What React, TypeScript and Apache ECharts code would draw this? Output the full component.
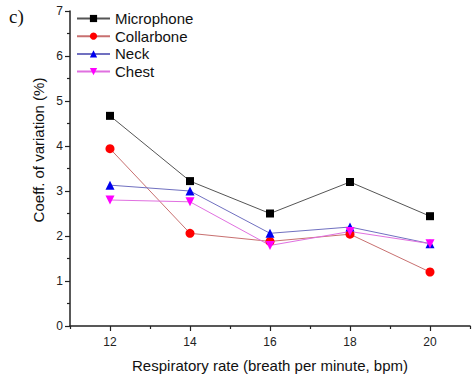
import React, { useEffect, useRef } from "react";
import * as echarts from "echarts";

const rates = [12, 14, 16, 18, 20];
const microphone = [4.67, 3.22, 2.5, 3.2, 2.44];
const collarbone = [3.94, 2.06, 1.88, 2.04, 1.2];
const neck = [3.13, 3.0, 2.06, 2.2, 1.83];
const chest = [2.8, 2.76, 1.79, 2.1, 1.83];
const majorXTicks = [12, 14, 16, 18, 20];
const minorXTicks = [11, 13, 15, 17, 19, 21];

const FONT = "Liberation Sans, Arial, sans-serif";

export default function App() {
  const ref = useRef<HTMLDivElement>(null);
  useEffect(() => {
    if (!ref.current) return;
    const chart = echarts.init(ref.current, null, { renderer: "svg" });
    const pair = (arr: number[]) => rates.map((r, i) => [r, arr[i]]);
    const mk = (name: string, data: number[], lineColor: string, symColor: string, symbol: string, size: number, rotate = 0) => ({
      name,
      type: "line",
      data: pair(data),
      symbol,
      symbolSize: size,
      symbolRotate: rotate,
      lineStyle: { color: lineColor, width: 1 },
      itemStyle: { color: symColor, borderWidth: 0 },
      emphasis: { disabled: true },
    });
    chart.setOption({
      animation: false,
      backgroundColor: "#fff",
      textStyle: { fontFamily: FONT },
      grid: { left: 70, top: 11, right: 6, bottom: 50 },
      legend: {
        orient: "vertical",
        left: 71,
        top: 6,
        itemWidth: 33,
        itemHeight: 9,
        itemGap: 2.7,
        textStyle: { fontSize: 15, color: "#111", fontFamily: FONT },
        data: ["Microphone", "Collarbone", "Neck", "Chest"],
      },
      xAxis: [
        {
          type: "value",
          min: 11,
          max: 21,
          interval: 1,
          name: "Respiratory rate (breath per minute, bpm)",
          nameLocation: "middle",
          nameGap: 32,
          nameTextStyle: { fontSize: 15, color: "#111", fontFamily: FONT },
          axisLine: { show: true, onZero: false, lineStyle: { color: "#222", width: 1.5 } },
          axisTick: { show: true, length: 5, customValues: majorXTicks, lineStyle: { color: "#222", width: 1.2 } },
          axisLabel: { show: true, customValues: majorXTicks, fontSize: 12, color: "#222", margin: 10, fontFamily: FONT },
          splitLine: { show: false },
        },
        {
          type: "value",
          min: 11,
          max: 21,
          position: "bottom",
          interval: 1,
          axisLine: { show: false, onZero: false },
          axisTick: { show: true, length: 3, customValues: minorXTicks, lineStyle: { color: "#222", width: 1.2 } },
          axisLabel: { show: false },
          splitLine: { show: false },
        },
      ],
      yAxis: {
        type: "value",
        min: 0,
        max: 7,
        interval: 1,
        axisLine: { show: true, lineStyle: { color: "#222", width: 1.5 } },
        axisTick: { show: true, length: 5, lineStyle: { color: "#222", width: 1.2 } },
        minorTick: { show: true, splitNumber: 2, length: 3, lineStyle: { color: "#222", width: 1.2 } },
        axisLabel: { fontSize: 12, color: "#222", margin: 7, fontFamily: FONT },
        splitLine: { show: false },
      },
      graphic: [
        {
          type: "text",
          left: 9,
          top: 7,
          style: { text: "c)", font: "19px 'Liberation Serif', 'Times New Roman', serif", fill: "#111" },
        },
        {
          type: "text",
          x: 38,
          y: 150,
          rotation: Math.PI / 2,
          style: {
            text: "Coeff. of variation (%)",
            font: `15px ${FONT}`,
            fill: "#111",
            align: "center",
            verticalAlign: "middle",
          },
        },
      ],
      series: [
        mk("Microphone", microphone, "#555555", "#000000", "rect", 8),
        mk("Collarbone", collarbone, "#c87070", "#ff0000", "circle", 9),
        mk("Neck", neck, "#7070c0", "#0000ee", "triangle", 9),
        mk("Chest", chest, "#e070e0", "#ff00ff", "triangle", 9, 180),
      ],
    });
    return () => chart.dispose();
  }, []);
  return <div ref={ref} style={{ width: 476, height: 378, position: "absolute", left: 0, top: 0 }} />;
}
